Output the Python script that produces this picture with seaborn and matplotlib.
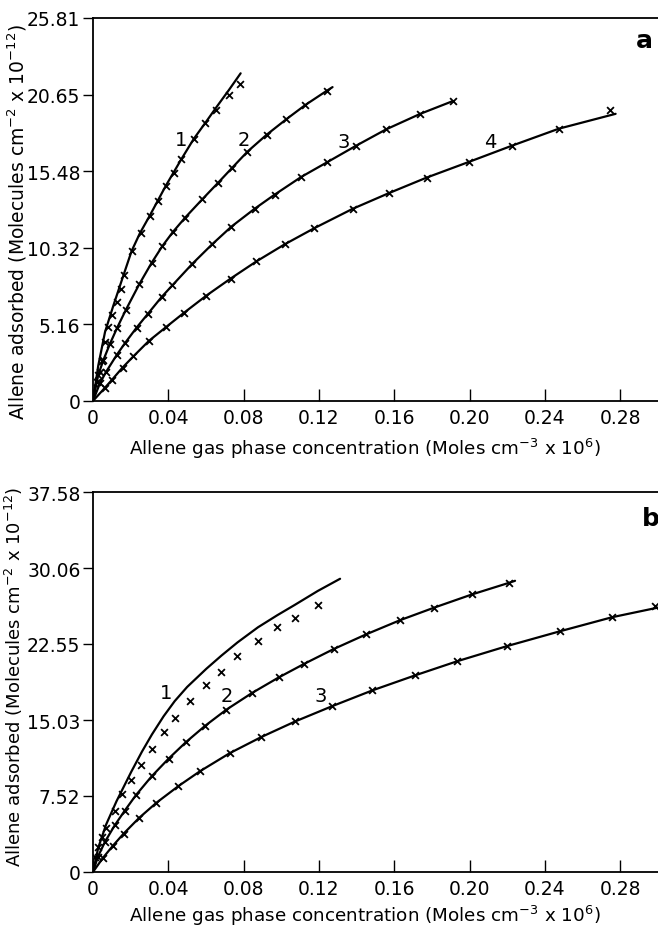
import matplotlib
matplotlib.use("Agg")
import matplotlib.pyplot as plt
import seaborn as sns

# ---- panel a : allene adsorbed vs gas phase concentration ----
a1_x = [0.0020, 0.0037, 0.0046, 0.0064, 0.0081, 0.0099, 0.0126, 0.0147, 0.0166, 0.0208,
        0.0254, 0.0302, 0.0346, 0.0387, 0.0429, 0.0470, 0.0535, 0.0597, 0.0652, 0.0722, 0.0783]
a1_y = [1.28, 1.93, 2.72, 3.96, 4.97, 5.80, 6.69, 7.55, 8.51, 10.09,
        11.32, 12.49, 13.50, 14.51, 15.36, 16.31, 17.66, 18.71, 19.63, 20.62, 21.36]
a1_line_x = [0, 0.0028, 0.0064, 0.0108, 0.0161, 0.0205, 0.0249, 0.0302, 0.0387, 0.0470,
             0.0535, 0.0597, 0.0655, 0.0722, 0.0784]
a1_line_y = [0, 2.38, 4.65, 6.42, 8.44, 10.1, 11.3, 12.5, 14.51, 16.31,
             17.66, 18.75, 19.79, 20.96, 22.08]

a2_x = [0.0028, 0.0055, 0.0090, 0.0129, 0.0175, 0.0245, 0.0311, 0.0369, 0.0425, 0.0489,
        0.0581, 0.0664, 0.0738, 0.0820, 0.0923, 0.1026, 0.1128, 0.1241]
a2_y = [1.75, 2.75, 3.85, 4.95, 6.15, 7.85, 9.30, 10.45, 11.40, 12.35,
        13.60, 14.70, 15.70, 16.80, 17.95, 18.98, 19.95, 20.90]
a2_line_x = [0] + a2_x + [0.1272]
a2_line_y = [0] + a2_y + [21.15]

a3_x = [0.0037, 0.0069, 0.0126, 0.0170, 0.0232, 0.0290, 0.0364, 0.0422, 0.0528, 0.0632,
        0.0735, 0.0858, 0.0964, 0.1106, 0.1245, 0.1397, 0.1556, 0.1738, 0.1909]
a3_y = [1.20, 1.95, 3.10, 3.90, 4.95, 5.85, 7.00, 7.80, 9.25, 10.55,
        11.75, 12.95, 13.90, 15.10, 16.10, 17.20, 18.30, 19.35, 20.20]
a3_line_x = [0] + a3_x
a3_line_y = [0] + a3_y

a4_x = [0.0064, 0.0099, 0.0157, 0.0214, 0.0297, 0.0390, 0.0484, 0.0602, 0.0731, 0.0867,
        0.1017, 0.1176, 0.1379, 0.1570, 0.1771, 0.1994, 0.2224, 0.2474, 0.2744]
a4_y = [0.90, 1.40, 2.25, 3.00, 4.05, 5.00, 5.95, 7.10, 8.25, 9.40,
        10.55, 11.65, 12.95, 14.00, 15.05, 16.10, 17.20, 18.35, 19.60]
a4_line_x = [0] + a4_x[:-1] + [0.2775]
a4_line_y = [0] + a4_y[:-1] + [19.35]

# ---- panel b ----
b1_x = [0.0013, 0.0028, 0.0046, 0.0069, 0.0117, 0.0154, 0.0203, 0.0256, 0.0313, 0.0375,
        0.0434, 0.0514, 0.0602, 0.0682, 0.0767, 0.0876, 0.0979, 0.1070, 0.1194]
b1_y = [1.48, 2.44, 3.43, 4.35, 6.06, 7.71, 9.12, 10.60, 12.20, 13.82,
        15.25, 16.91, 18.49, 19.81, 21.33, 22.87, 24.20, 25.09, 26.45]
b1_line_x = [0, 0.0028, 0.0070, 0.0125, 0.0203, 0.0260, 0.0313, 0.0375, 0.0434, 0.0500,
             0.0602, 0.0682, 0.0767, 0.0876, 0.0979, 0.1070, 0.1194, 0.1312]
b1_line_y = [0, 2.4, 4.7, 7.0, 9.9, 11.9, 13.6, 15.4, 16.9, 18.3,
             20.1, 21.4, 22.7, 24.2, 25.4, 26.4, 27.8, 29.0]

b2_x = [0.0026, 0.0064, 0.0115, 0.0168, 0.0228, 0.0311, 0.0401, 0.0494, 0.0595, 0.0708,
        0.0844, 0.0987, 0.1123, 0.1278, 0.1450, 0.1630, 0.1812, 0.2012, 0.2209]
b2_y = [1.50, 3.00, 4.60, 6.05, 7.60, 9.45, 11.20, 12.85, 14.45, 16.05,
        17.70, 19.25, 20.60, 22.05, 23.50, 24.90, 26.15, 27.45, 28.60]
b2_line_x = [0] + b2_x + [0.2241]
b2_line_y = [0] + b2_y + [28.80]

b3_x = [0.0053, 0.0106, 0.0163, 0.0245, 0.0337, 0.0454, 0.0567, 0.0726, 0.0894, 0.1075,
        0.1270, 0.1482, 0.1711, 0.1935, 0.2200, 0.2478, 0.2757, 0.2986]
b3_y = [1.40, 2.60, 3.80, 5.35, 6.85, 8.50, 9.95, 11.75, 13.35, 14.90,
        16.40, 17.95, 19.45, 20.85, 22.35, 23.80, 25.20, 26.30]
b3_line_x = [0] + b3_x[:-1] + [0.3000]
b3_line_y = [0] + b3_y[:-1] + [26.15]

x_ticks = [0, 0.04, 0.08, 0.12, 0.16, 0.20, 0.24, 0.28]
x_ticklabels = ["0", "0.04", "0.08", "0.12", "0.16", "0.20", "0.24", "0.28"]
a_yticks = [0, 5.16, 10.32, 15.48, 20.65, 25.81]
a_yticklabels = ["0", "5.16", "10.32", "15.48", "20.65", "25.81"]
b_yticks = [0, 7.52, 15.03, 22.55, 30.06, 37.58]
b_yticklabels = ["0", "7.52", "15.03", "22.55", "30.06", "37.58"]

sns.set_style("ticks")
plt.rcParams["font.family"] = ["DejaVu Sans"]
plt.rcParams["text.color"] = "black"
plt.rcParams["axes.labelcolor"] = "black"
plt.rcParams["xtick.color"] = "black"
plt.rcParams["ytick.color"] = "black"
plt.rcParams["axes.edgecolor"] = "black"

fig = plt.figure(figsize=(6.58, 9.29), dpi=100)
ax_a = fig.add_axes([0.1413, 0.5673, 0.8587, 0.4123])
ax_b = fig.add_axes([0.1413, 0.0603, 0.8587, 0.4090])


def draw_curve(ax, lx, ly, px, py):
    sns.lineplot(x=lx, y=ly, ax=ax, color="black", lw=1.6, sort=False, estimator=None)
    sns.scatterplot(x=px, y=py, ax=ax, marker="x", color="black", s=24, linewidth=1.3)


for lx, ly, px, py in [(a1_line_x, a1_line_y, a1_x, a1_y), (a2_line_x, a2_line_y, a2_x, a2_y),
                       (a3_line_x, a3_line_y, a3_x, a3_y), (a4_line_x, a4_line_y, a4_x, a4_y)]:
    draw_curve(ax_a, lx, ly, px, py)

for lx, ly, px, py in [(b1_line_x, b1_line_y, b1_x, b1_y), (b2_line_x, b2_line_y, b2_x, b2_y),
                       (b3_line_x, b3_line_y, b3_x, b3_y)]:
    draw_curve(ax_b, lx, ly, px, py)

xlabel = "Allene gas phase concentration (Moles cm$^{-3}$ x 10$^{6}$)"
for ax, yt, ytl, ymax, ly in [(ax_a, a_yticks, a_yticklabels, 25.81, -0.090),
                              (ax_b, b_yticks, b_yticklabels, 37.58, -0.082)]:
    ax.set_xlim(0, 0.30)
    ax.set_ylim(0, ymax)
    ax.set_xticks(x_ticks)
    ax.set_xticklabels(x_ticklabels)
    ax.set_yticks(yt)
    ax.set_yticklabels(ytl)
    ax.tick_params(axis="x", direction="in", length=8.5, width=1, labelsize=13.5, pad=5)
    ax.tick_params(axis="y", direction="out", length=7.5, width=1, labelsize=13.5, pad=1.5)
    ax.spines["right"].set_visible(False)
    for s in ["left", "bottom", "top"]:
        ax.spines[s].set_linewidth(1.3)
    ax.set_xlabel(xlabel, fontsize=13.2)
    ax.xaxis.set_label_coords(0.481, ly)

ax_a.set_ylabel("Allene adsorbed (Molecules cm$^{-2}$ x 10$^{-12}$)", fontsize=13.5)
ax_a.yaxis.set_label_coords(-0.113, 0.47)
ax_b.set_ylabel("Allene adsorbed (Molecules cm$^{-2}$ x 10$^{-12}$)", fontsize=13)
ax_b.yaxis.set_label_coords(-0.121, 0.515)

# curve numbers
for x, y, t in [(0.047, 17.6, "1"), (0.080, 17.6, "2"), (0.133, 17.5, "3"), (0.211, 17.5, "4")]:
    ax_a.text(x, y, t, fontsize=14, ha="center", va="center")
for x, y, t in [(0.039, 17.8, "1"), (0.071, 17.5, "2"), (0.121, 17.5, "3")]:
    ax_b.text(x, y, t, fontsize=14, ha="center", va="center")

ax_a.text(0.293, 24.3, "a", fontsize=18, fontweight="bold", ha="center", va="center")
ax_b.text(0.296, 35.0, "b", fontsize=18, fontweight="bold", ha="center", va="center")

fig.savefig("out.png", dpi=100)
